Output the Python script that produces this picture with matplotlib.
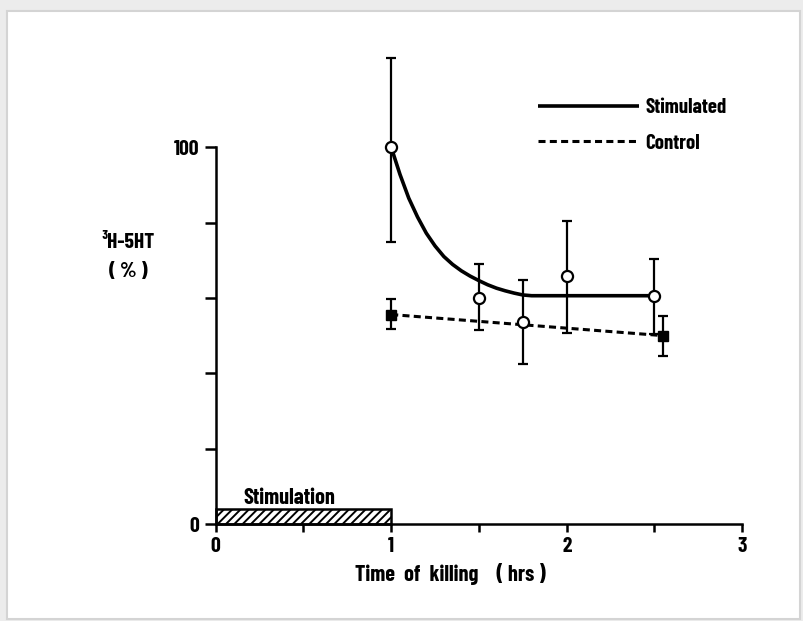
import matplotlib.pyplot as plt
from matplotlib.patches import Rectangle

# stimulated group (open circles)
stim_t = [1.0, 1.5, 1.75, 2.0, 2.5]
stim_val = [100.0, 60.0, 53.7, 65.9, 60.4]
stim_lo = [74.8, 51.6, 42.5, 50.8, 50.5]
stim_hi = [123.8, 69.0, 64.9, 80.5, 70.3]

# fitted curve through the stimulated group
fit_t = [1.0, 1.05, 1.1, 1.15, 1.2, 1.25, 1.3, 1.35, 1.4, 1.45, 1.5, 1.55,
         1.6, 1.65, 1.7, 1.75, 1.8, 2.5]
fit_val = [100.0, 92.8, 86.5, 81.5, 77.2, 73.8, 71.0, 68.9, 67.2, 65.8, 64.6, 63.5,
           62.6, 61.9, 61.3, 60.8, 60.6, 60.6]

# control group (filled squares)
ctrl_t = [1.0, 2.55]
ctrl_val = [55.6, 50.0]
ctrl_lo = [51.8, 44.6]
ctrl_hi = [59.6, 55.1]

# stimulation period
stim_start = 0.0
stim_end = 1.0
stim_bar_h = 4.0

XTICKS = [0, 0.5, 1, 1.5, 2, 2.5, 3]
XTICKLABELS = ["0", "", "1", "", "2", "", "3"]
YTICKS = [0, 20, 40, 60, 80, 100]
YTICKLABELS = ["0", "", "", "", "", "100"]

FAMILY = ["Barlow Condensed", "DejaVu Sans"]
FONT = dict(family=FAMILY, weight=700)
plt.rcParams["font.family"] = FAMILY
plt.rcParams["font.weight"] = 700
plt.rcParams["hatch.linewidth"] = 1.4

fig = plt.figure(figsize=(8.04, 6.21), dpi=100, facecolor="#ececec")
fig.patches.append(Rectangle((7 / 804, 0.004), 793 / 804, 1 - 11 / 621 - 0.004,
                             transform=fig.transFigure, facecolor="white",
                             edgecolor="#d4d4d4", lw=1.5, zorder=-10))
ax = fig.add_axes([0.24646, 0.138, 0.69851, 0.8068])
ax.set_facecolor("none")

# stimulated: curve, error bars, open circles
ax.plot(fit_t, fit_val, color="black", lw=2.6, solid_joinstyle="round",
        solid_capstyle="butt", label="Stimulated", zorder=2)
ax.errorbar(stim_t, stim_val,
            yerr=[[v - lo for v, lo in zip(stim_val, stim_lo)],
                  [hi - v for v, hi in zip(stim_val, stim_hi)]],
            fmt="none", ecolor="black", elinewidth=1.6, capsize=3.6, capthick=1.6, zorder=3)
ax.plot(stim_t, stim_val, "o", ms=8, mfc="white", mec="black", mew=1.6, zorder=4)

# control: dashed line, error bars, filled squares
ax.plot(ctrl_t, ctrl_val, color="black", lw=2.2, ls=(0, (2.3, 1.4)),
        label="Control", zorder=2)
ax.errorbar(ctrl_t, ctrl_val,
            yerr=[[v - lo for v, lo in zip(ctrl_val, ctrl_lo)],
                  [hi - v for v, hi in zip(ctrl_val, ctrl_hi)]],
            fmt="none", ecolor="black", elinewidth=1.6, capsize=3.6, capthick=1.6, zorder=3)
ax.plot(ctrl_t, ctrl_val, "s", ms=7, mfc="black", mec="black", zorder=4)

# hatched stimulation bar
ax.add_patch(Rectangle((stim_start, 0), stim_end - stim_start, stim_bar_h,
                       facecolor="white", edgecolor="black", lw=1.8,
                       hatch="////", zorder=1))
ax.text(0.157, 7.0, "Stimulation", fontsize=16, ha="left", va="center", **FONT)

ax.set_xlim(-0.1, 3.1)
ax.set_ylim(-3, 130)
for s in ["top", "right"]:
  ax.spines[s].set_visible(False)
ax.spines["left"].set_bounds(0, 100)
ax.spines["bottom"].set_bounds(0, 3)
ax.spines["left"].set_position(("data", 0))
ax.spines["bottom"].set_position(("data", 0))
ax.spines["left"].set_linewidth(1.8)
ax.spines["bottom"].set_linewidth(1.8)

ax.set_xticks(XTICKS)
ax.set_xticklabels(XTICKLABELS, fontsize=15.5, **FONT)
ax.set_yticks(YTICKS)
ax.set_yticklabels(YTICKLABELS, fontsize=15.5, **FONT)
ax.tick_params(axis="x", direction="out", length=6, width=1.8, pad=3)
ax.tick_params(axis="y", direction="out", length=8, width=1.8, pad=4)

fig.text(450 / 804, 1 - 574 / 621, "Time  of  killing    ( hrs )", fontsize=16,
         ha="center", va="center", **FONT)
ax.text(-0.5, 74.6, "³H-5HT", fontsize=15.5, ha="center", va="center", **FONT)
ax.text(-0.5, 66.9, "( % )", fontsize=15.5, ha="center", va="center", **FONT)

ax.legend(loc="upper left", bbox_to_anchor=(0.6566, 0.859), bbox_transform=fig.transFigure,
          frameon=False, handlelength=4.85, handletextpad=0.3, labelspacing=0.8,
          borderpad=0, prop=dict(size=15, **FONT))

plt.savefig("out.png", dpi=100, facecolor=fig.get_facecolor())
